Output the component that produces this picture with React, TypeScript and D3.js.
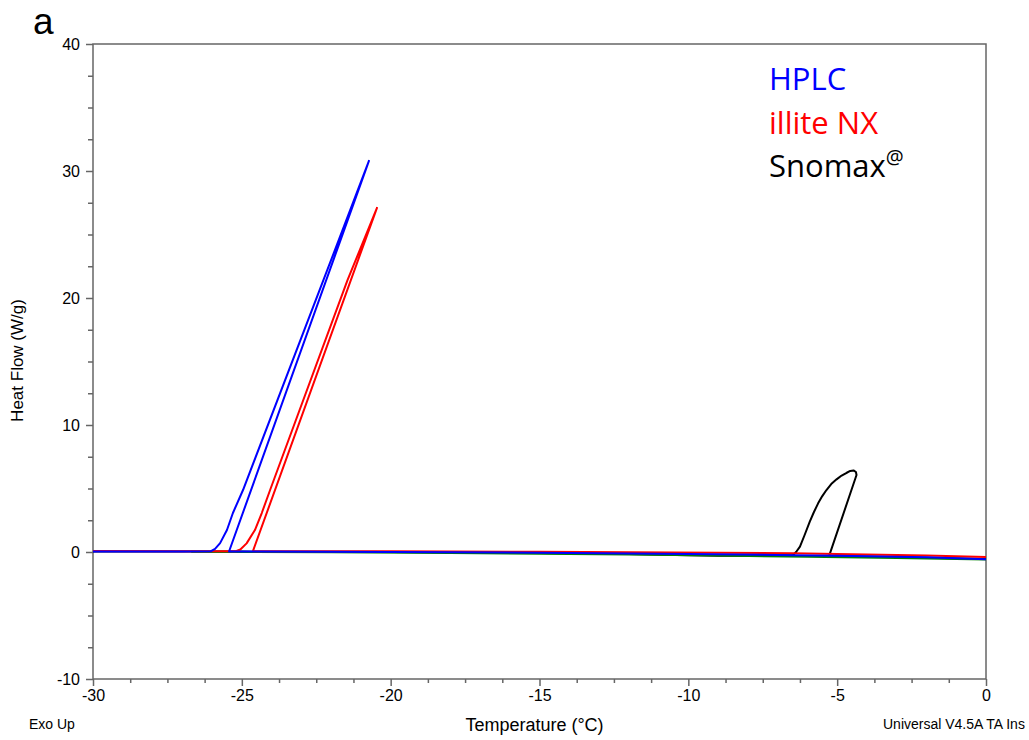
import React, { useEffect, useRef } from 'react';
import * as d3 from 'd3';

// temperature (°C) / heat flow (W/g), in trace order
const hplcT = [0, -2, -5, -6.5, -10, -15, -20, -25.43, -20.73, -22.26, -24.96, -25.3, -25.5, -25.73, -25.9, -26.05, -27, -30];
const hplcHF = [-0.58, -0.42, -0.3, -0.25, -0.15, -0.05, 0.0, 0.04, 30.8, 21.4, 4.88, 3.07, 1.73, 0.7, 0.25, 0.05, 0.04, 0.04];

const illiteT = [0, -2, -5, -6.5, -9, -12, -15, -20, -24.63, -20.46, -21.45, -24.05, -24.33, -24.56, -24.84, -25.05, -25.2, -27, -30];
const illiteHF = [-0.4, -0.27, -0.15, -0.1, -0.05, -0.02, 0.02, 0.05, 0.05, 27.1, 21.4, 4.88, 3.07, 1.73, 0.68, 0.2, 0.06, 0.06, 0.07];

const snomaxT = [0, -2, -4, -5.27, -4.35, -4.37, -4.45, -4.56, -4.68, -4.85, -5.02, -5.2, -5.36, -5.5, -5.64, -5.78, -5.92, -6.1, -6.25, -6.38, -6.48, -7.5, -9, -10, -12, -15, -20, -25, -30];
const snomaxHF = [-0.55, -0.45, -0.36, -0.31, 6.06, 6.3, 6.42, 6.38, 6.24, 6.02, 5.72, 5.35, 4.88, 4.4, 3.83, 3.15, 2.39, 1.3, 0.42, 0.0, -0.24, -0.3, -0.3, -0.25, -0.15, -0.07, 0.0, 0.03, 0.04];

const greenT = [0, -3, -6, -9, -12, -15, -18, -22, -26.7];
const greenHF = [-0.6, -0.48, -0.38, -0.28, -0.2, -0.14, -0.08, -0.02, 0.02];

const xTicks = [-30, -25, -20, -15, -10, -5, 0];
const yTicks = [-10, 0, 10, 20, 30, 40];
const legendNames = ['HPLC', 'illite NX', 'Snomax'];
const legendColors = ['#0000ff', '#ff0000', '#000000'];

const App = () => {
  const svgRef = useRef<SVGSVGElement>(null);

  useEffect(() => {
    const w = 1029;
    const h = 740;
    const left = 93, right = 986, top = 44, bottom = 679;

    const x = d3.scaleLinear().domain([-30, 0]).range([left, right]);
    const y = d3.scaleLinear().domain([-10, 40]).range([bottom, top]);

    const svg = d3.select(svgRef.current)
      .attr('width', w)
      .attr('height', h);
    svg.selectAll('*').remove();

    const axisColor = '#666';
    const font = 'Liberation Sans, Arial, sans-serif';

    // minor ticks
    const xMinor = d3.range(-30, 0.01, 1.25).filter((v) => v % 5 !== 0);
    const yMinor = d3.range(-10, 40.01, 2.5).filter((v) => v % 10 !== 0);

    svg.append('g')
      .attr('transform', `translate(0,${bottom})`)
      .call(d3.axisBottom(x).tickValues(xMinor).tickSize(4).tickFormat(() => ''))
      .call((g) => g.select('.domain').remove())
      .selectAll('line').attr('stroke', axisColor).attr('stroke-width', 1.5);

    svg.append('g')
      .attr('transform', `translate(${left},0)`)
      .call(d3.axisLeft(y).tickValues(yMinor).tickSize(5).tickFormat(() => ''))
      .call((g) => g.select('.domain').remove())
      .selectAll('line').attr('stroke', axisColor).attr('stroke-width', 1.5);

    const xAxis = svg.append('g')
      .attr('transform', `translate(0,${bottom})`)
      .call(d3.axisBottom(x).tickValues(xTicks).tickSize(7).tickPadding(4).tickFormat((d) => String(d)));
    xAxis.select('.domain').remove();
    xAxis.selectAll('line').attr('stroke', axisColor).attr('stroke-width', 1.5);
    xAxis.selectAll('text').attr('font-size', 16).attr('font-family', font).attr('fill', '#000');

    const yAxis = svg.append('g')
      .attr('transform', `translate(${left},0)`)
      .call(d3.axisLeft(y).tickValues(yTicks).tickSize(7).tickPadding(6).tickFormat((d) => String(d)));
    yAxis.select('.domain').remove();
    yAxis.selectAll('line').attr('stroke', axisColor).attr('stroke-width', 1.5);
    yAxis.selectAll('text').attr('font-size', 16).attr('font-family', font).attr('fill', '#000');

    // frame
    svg.append('rect')
      .attr('x', left)
      .attr('y', top)
      .attr('width', right - left)
      .attr('height', bottom - top)
      .attr('fill', 'none')
      .attr('stroke', axisColor)
      .attr('stroke-width', 1.5);

    const line = d3.line<[number, number]>()
      .x((d) => x(d[0]))
      .y((d) => y(d[1]));

    const series = [
      { t: snomaxT, hf: snomaxHF, color: '#000000' },
      { t: greenT, hf: greenHF, color: '#008000' },
      { t: illiteT, hf: illiteHF, color: '#ff0000' },
      { t: hplcT, hf: hplcHF, color: '#0000ff' },
    ];

    series.forEach((s) => {
      svg.append('path')
        .datum(s.t.map((t, i) => [t, s.hf[i]] as [number, number]))
        .attr('d', line)
        .attr('fill', 'none')
        .attr('stroke', s.color)
        .attr('stroke-width', 2)
        .attr('stroke-linejoin', 'round');
    });

    // legend
    const legend = svg.append('g');
    legendNames.forEach((name, i) => {
      const t = legend.append('text')
        .attr('x', 769)
        .attr('y', 90 + i * 43.5)
        .attr('font-family', 'Open Sans, sans-serif')
        .attr('font-size', 31)
        .attr('fill', legendColors[i])
        .text(name);
      if (name === 'Snomax') {
        t.append('tspan')
          .attr('font-size', 20)
          .attr('dy', -13)
          .text('@');
      }
    });

    // axis titles and notes
    svg.append('text')
      .attr('x', (left + right) / 2 - 5)
      .attr('y', 731)
      .attr('text-anchor', 'middle')
      .attr('font-family', font)
      .attr('font-size', 18)
      .text('Temperature (°C)');

    svg.append('text')
      .attr('transform', `translate(23,${(top + bottom) / 2 - 1}) rotate(-90)`)
      .attr('text-anchor', 'middle')
      .attr('font-family', font)
      .attr('font-size', 17)
      .text('Heat Flow (W/g)');

    svg.append('text')
      .attr('x', 29)
      .attr('y', 729)
      .attr('font-family', font)
      .attr('font-size', 14)
      .text('Exo Up');

    svg.append('text')
      .attr('x', 883)
      .attr('y', 729)
      .attr('font-family', font)
      .attr('font-size', 14)
      .text('Universal V4.5A TA Ins');

    svg.append('text')
      .attr('x', 33)
      .attr('y', 34)
      .attr('font-family', font)
      .attr('font-size', 37)
      .text('a');
  }, []);

  return (
    <div style={{ position: 'absolute', left: 0, top: 0 }}>
      <svg ref={svgRef}></svg>
    </div>
  );
};

export default App;
